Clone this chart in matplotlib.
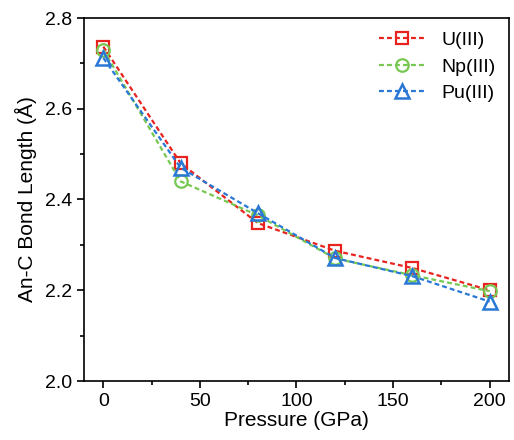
import matplotlib
matplotlib.use("Agg")
import matplotlib.pyplot as plt
from matplotlib.ticker import MultipleLocator

plt.rcParams['font.family'] = ['Liberation Sans', 'DejaVu Sans']

# donnees
pressure = [0, 40, 80, 120, 160, 200]
u3 = [2.737, 2.480, 2.348, 2.287, 2.249, 2.200]
np3 = [2.730, 2.440, 2.365, 2.270, 2.233, 2.198]
pu3 = [2.712, 2.470, 2.370, 2.271, 2.231, 2.175]

fig = plt.figure(figsize=(5.14, 4.4), dpi=100)
ax = fig.add_axes([84/514, 59/440, 425/514, 363/440])

dash = (2.2, 1.4)
ax.plot(pressure, u3, "--s", color="#e8231f", mfc="none", ms=8, mew=1.6, lw=1.6, dashes=dash, label="U(III)")
ax.plot(pressure, np3, "--o", color="#76c852", mfc="none", ms=9, mew=1.6, lw=1.6, dashes=dash, label="Np(III)")
ax.plot(pressure, pu3, "--^", color="#2a78d6", mfc="none", ms=10, mew=1.8, lw=1.6, dashes=dash, label="Pu(III)")

ax.set_xlim(-10, 210)
ax.set_ylim(2.0, 2.8)
ax.xaxis.set_major_locator(MultipleLocator(50))
ax.xaxis.set_minor_locator(MultipleLocator(25))
ax.yaxis.set_major_locator(MultipleLocator(0.2))
ax.yaxis.set_minor_locator(MultipleLocator(0.1))
ax.tick_params(which="both", direction="out", labelsize=14, width=1.2)
ax.tick_params(which="major", length=5)
ax.tick_params(which="minor", length=3)
for s in ax.spines.values():
    s.set_linewidth(1.2)

ax.set_xlabel("Pressure (GPa)", fontsize=15, labelpad=1)
ax.set_ylabel("An-C Bond Length (Å)", fontsize=15, labelpad=6)
ax.legend(loc="upper right", frameon=False, fontsize=14, handlelength=2.4,
          labelspacing=0.45, borderaxespad=0.3)

fig.savefig("out.png", dpi=100)
